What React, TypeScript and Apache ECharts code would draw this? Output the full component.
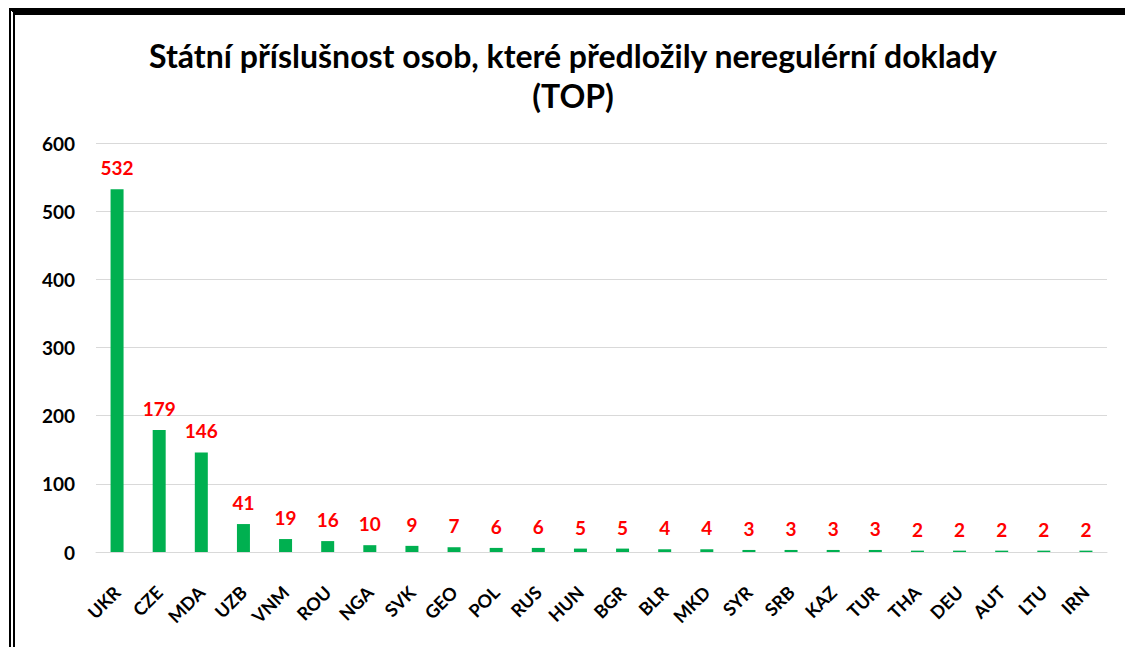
import React, { useEffect, useRef } from "react";
import * as echarts from "echarts";

const titleLines = ["Státní příslušnost osob, které předložily neregulérní doklady", "(TOP)"];
const categories = ["UKR", "CZE", "MDA", "UZB", "VNM", "ROU", "NGA", "SVK", "GEO", "POL", "RUS", "HUN", "BGR", "BLR", "MKD", "SYR", "SRB", "KAZ", "TUR", "THA", "DEU", "AUT", "LTU", "IRN"];
const values = [532, 179, 146, 41, 19, 16, 10, 9, 7, 6, 6, 5, 5, 4, 4, 3, 3, 3, 3, 2, 2, 2, 2, 2];
const yMin = 0;
const yMax = 600;
const yStep = 100;

const FONT = "Lato, 'Open Sans', sans-serif";

export default function App() {
  const ref = useRef<HTMLDivElement>(null);
  useEffect(() => {
    document.body.style.margin = "0";
    if (!ref.current) return;
    const chart = echarts.init(ref.current, undefined, { renderer: "svg" });
    chart.setOption({
      animation: false,
      backgroundColor: "#ffffff",
      graphic: titleLines.map((line, i) => ({
        type: "text",
        x: 573,
        y: 55 + i * 40,
        style: {
          text: line,
          align: "center",
          verticalAlign: "middle",
          fill: "#000",
          font: `bold 32px ${FONT}`,
        },
      })),
      grid: { left: 96, right: 18, top: 143, bottom: 95, containLabel: false },
      xAxis: {
        type: "category",
        data: categories,
        axisLine: { show: true, lineStyle: { color: "#d9d9d9", width: 1 } },
        axisTick: { show: false },
        axisLabel: {
          rotate: 45,
          interval: 0,
          margin: 37,
          color: "#000",
          fontFamily: FONT,
          fontWeight: "bold",
          fontSize: 18,
        },
      },
      yAxis: {
        type: "value",
        min: yMin,
        max: yMax,
        interval: yStep,
        axisLine: { show: false },
        axisTick: { show: false },
        splitLine: { lineStyle: { color: "#d9d9d9", width: 1 } },
        axisLabel: {
          margin: 21,
          color: "#000",
          fontFamily: FONT,
          fontWeight: "bold",
          fontSize: 19,
        },
      },
      series: [
        {
          type: "bar",
          data: values,
          barWidth: 13,
          itemStyle: { color: "#00B050" },
          label: {
            show: true,
            position: "top",
            distance: 12,
            color: "#FF0000",
            fontFamily: FONT,
            fontWeight: "bold",
            fontSize: 19,
          },
        },
      ],
    });
    return () => chart.dispose();
  }, []);
  return (
    <div style={{ position: "relative", width: 1125, height: 647, overflow: "hidden", background: "#fff" }}>
      <div ref={ref} style={{ position: "absolute", left: 0, top: 0, width: 1125, height: 647 }} />
      <div
        style={{
          position: "absolute",
          left: 9,
          top: 8,
          width: 1200,
          height: 800,
          borderTop: "7px solid #000",
          borderLeft: "6px double #000",
          pointerEvents: "none",
        }}
      />
    </div>
  );
}
